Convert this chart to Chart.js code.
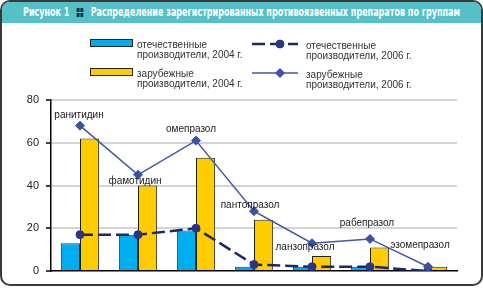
<!DOCTYPE html>
<html><head><meta charset="utf-8">
<script src="https://cdn.jsdelivr.net/npm/chart.js@4.4.1/dist/chart.umd.min.js"></script>
<style>
html,body{margin:0;padding:0;background:#fff;}
#wrap{position:relative;width:483px;height:288px;overflow:hidden;}
#frame{position:absolute;left:0;top:0;width:479px;height:282px;border:2px solid #3a3a3a;border-radius:10px;overflow:hidden;background:#fff;}
#title{position:absolute;left:0;top:0;width:100%;height:21px;background:#55c0c7;}
#tt{position:absolute;left:21px;top:0;color:#fff;font-family:"DejaVu Sans Condensed","DejaVu Sans","Liberation Sans",sans-serif;font-stretch:condensed;
 font-weight:bold;font-size:12px;line-height:21px;white-space:nowrap;transform-origin:0 50%;}
.ic{display:inline-block;width:9px;height:9px;vertical-align:-1px;margin:0 6px;position:relative;}
.ic i{position:absolute;width:4px;height:4px;background:#0c3a3e;}
#c{position:absolute;left:0;top:0;}
</style></head>
<body>
<div id="wrap">
 <div id="frame"><div id="title"><span id="tt">Рисунок 1 <span class="ic"><i style="left:0;top:0"></i><i style="left:5px;top:0"></i><i style="left:0;top:5px"></i><i style="left:5px;top:5px"></i></span> Распределение зарегистрированных противоязвенных препаратов по группам</span></div></div>
 <canvas id="c" width="483" height="288"></canvas>
</div>
<script>
const categories = ['ранитидин','фамотидин','омепразол','пантопразол','ланзопразол','рабепразол','эзомепразол'];
const domestic2004 = [13, 17, 19, 2, 2, 2, 0];
const foreign2004  = [62, 40, 53, 24, 7, 11, 2];
const domestic2006 = [17, 17, 20, 3, 2, 2, 0];
const foreign2006  = [68, 45, 61, 28, 13, 15, 2];
const yTicks = [0, 20, 40, 60, 80];
const seriesLabels = [
  ['отечественные','производители, 2004 г.'],
  ['зарубежные','производители, 2004 г.'],
  ['отечественные','производители, 2006 г.'],
  ['зарубежные','производители, 2006 г.']
];

// fit title text width
(function(){
  const t = document.getElementById('tt');
  const w = t.getBoundingClientRect().width;
  t.style.transform = 'scaleX(' + (437 / w) + ')';
})();

const FONT = '"Liberation Sans", Arial, sans-serif';
const labelOffsets = [[-1,-10],[-3,6],[-5,-11],[-4,-6],[-7,4],[-3,-16],[-8,-21]];

const annotPlugin = {
  id:'annot',
  afterDatasetsDraw(chart){
    const ctx = chart.ctx, xs = chart.scales.x, ys = chart.scales.y;
    ctx.save();
    ctx.font = '10px ' + FONT;
    ctx.fillStyle = '#1a1a1a';
    ctx.textAlign = 'center';
    ctx.textBaseline = 'middle';
    categories.forEach((c,i)=>{
      const x = xs.getPixelForValue(i) + labelOffsets[i][0];
      const y = ys.getPixelForValue(foreign2006[i]) + labelOffsets[i][1];
      ctx.fillText(c, x, y);
    });
    ctx.restore();
  }
};

const legendPlugin = {
  id:'customLegend',
  afterDraw(chart){
    const ctx = chart.ctx, ds = chart.data.datasets;
    const items = [
      {d:0, x:90, y:43, tx:137},
      {d:1, x:90, y:72, tx:137},
      {d:2, x:252, y:44, tx:306},
      {d:3, x:252, y:73, tx:306}
    ];
    items.forEach(it=>{
      const d = ds[it.d];
      ctx.save();
      if (d.type === 'line') {
        ctx.strokeStyle = d.borderColor; ctx.lineWidth = d.borderWidth;
        ctx.setLineDash(d.borderDash || []);
        ctx.beginPath(); ctx.moveTo(it.x, it.y); ctx.lineTo(it.x+46, it.y); ctx.stroke();
        ctx.setLineDash([]);
        ctx.fillStyle = d.pointBackgroundColor; ctx.strokeStyle = d.pointBorderColor; ctx.lineWidth = 1;
        Chart.helpers.drawPoint(ctx, {pointStyle:d.pointStyle, radius:d.pointRadius, borderWidth:1}, it.x+28, it.y);
      } else {
        ctx.fillStyle = d.backgroundColor; ctx.strokeStyle = '#222'; ctx.lineWidth = 1;
        ctx.fillRect(it.x, it.y-4, 43, 8); ctx.strokeRect(it.x+0.5, it.y-3.5, 42, 7);
      }
      ctx.restore();
      ctx.save();
      ctx.font = '10px ' + FONT;
      ctx.fillStyle = '#333';
      ctx.textBaseline = 'middle';
      ctx.textAlign = 'left';
      const lines = seriesLabels[it.d];
      ctx.fillText(lines[0], it.tx, it.y+2);
      ctx.fillText(lines[1], it.tx, it.y+12);
      ctx.restore();
    });
  }
};

new Chart(document.getElementById('c'), {
  type:'bar',
  data:{
    labels: categories,
    datasets:[
      {label:seriesLabels[0].join(' '), data:domestic2004, backgroundColor:'#00aeef', borderColor:'#1d3a55', borderWidth:1, order:2},
      {label:seriesLabels[1].join(' '), data:foreign2004, backgroundColor:'#ffcc00', borderColor:'#222', borderWidth:1, order:2},
      {type:'line', label:seriesLabels[2].join(' '), data:domestic2006, borderColor:'#1e2868', borderWidth:2.5, borderDash:[13,5],
        pointStyle:'circle', pointRadius:4, pointBorderWidth:1, pointBackgroundColor:'#2a3585', pointBorderColor:'#2a3585', order:1, tension:0},
      {type:'line', label:seriesLabels[3].join(' '), data:foreign2006, borderColor:'#4257a6', borderWidth:1.5,
        pointStyle:'rectRot', pointRadius:4.5, pointBorderWidth:1, pointBackgroundColor:'#3b51a3', pointBorderColor:'#3b51a3', order:0, tension:0}
    ]
  },
  options:{
    responsive:false, animation:false, devicePixelRatio:1,
    layout:{padding:{left:0, right:26, top:100, bottom:17}},
    plugins:{legend:{display:false}, tooltip:{enabled:false}, title:{display:false}},
    datasets:{bar:{categoryPercentage:0.66, barPercentage:1.0}},
    scales:{
      x:{
        grid:{display:false, drawTicks:false},
        ticks:{display:false},
        border:{display:true, color:'#000', width:1.5},
        afterFit(s){ s.height = 0; }
      },
      y:{
        min:0, max:80,
        afterBuildTicks(s){ s.ticks = yTicks.map(v=>({value:v})); },
        ticks:{font:{family:FONT, size:11}, color:'#222', padding:7},
        grid:{color:(c)=> c.tick && c.tick.value===0 ? 'rgba(0,0,0,0)' : '#d4d4d4', lineWidth:2,
              tickColor:'#000', tickLength:5, tickWidth:1.5},
        border:{display:true, color:'#000', width:1.5},
        afterFit(s){ s.width = 51; }
      }
    }
  },
  plugins:[annotPlugin, legendPlugin]
});
</script>
</body></html>
